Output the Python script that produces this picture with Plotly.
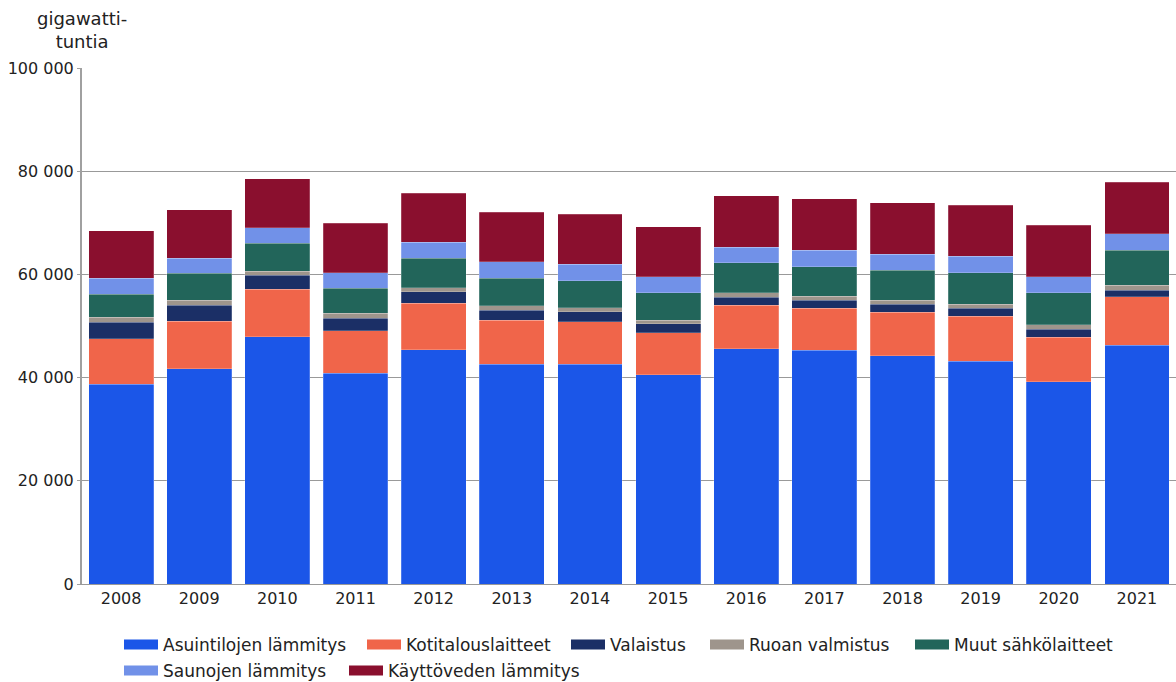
import plotly.graph_objects as go

years = ["2008", "2009", "2010", "2011", "2012", "2013", "2014", "2015",
         "2016", "2017", "2018", "2019", "2020", "2021"]

asuintilojen = [38700, 41700, 47900, 40800, 45350, 42600, 42600, 40600, 45600, 45300, 44200, 43200, 39150, 46300]
kotitalous   = [8800, 9200, 9200, 8300, 9050, 8500, 8200, 8100, 8400, 8150, 8450, 8700, 8650, 9350]
valaistus    = [3200, 3100, 2700, 2400, 2200, 2000, 1950, 1700, 1600, 1550, 1550, 1500, 1600, 1300]
ruoan        = [970, 1000, 850, 950, 800, 800, 800, 750, 850, 750, 800, 800, 850, 900]
muut         = [4450, 5200, 5400, 4900, 5700, 5400, 5250, 5250, 5800, 5750, 5800, 6100, 6150, 6850]
saunojen     = [3100, 2900, 3000, 3000, 3100, 3200, 3200, 3150, 3000, 3200, 3100, 3200, 3150, 3150]
kayttovesi   = [9200, 9400, 9500, 9600, 9550, 9550, 9700, 9700, 10000, 9950, 10000, 9900, 9950, 10000]

names = ["Asuintilojen lämmitys", "Kotitalouslaitteet", "Valaistus", "Ruoan valmistus",
         "Muut sähkölaitteet", "Saunojen lämmitys", "Käyttöveden lämmitys"]
values = [asuintilojen, kotitalous, valaistus, ruoan, muut, saunojen, kayttovesi]
colors = ["#1b56e8", "#f0654a", "#1b2f66", "#9e958c", "#22655a", "#7191e8", "#8a0f2e"]

# legend swatch placement (pixels): left edge of swatch, vertical centre of row
legend_pos = [(122, 645), (365, 645), (569, 645), (708, 645), (913, 645),
              (122, 671), (347, 671)]

W, H = 1176, 682

fig = go.Figure()
for name, vals, col in zip(names, values, colors):
    fig.add_trace(go.Bar(
        x=years, y=vals, name=name, showlegend=False, legendgroup=name,
        marker=dict(color=col, line=dict(color="rgba(255,255,255,0.35)", width=0.6)),
    ))

legends = {}
for i, (name, col, (lx, ly)) in enumerate(zip(names, colors, legend_pos)):
    key = "legend" if i == 0 else f"legend{i + 1}"
    fig.add_trace(go.Scatter(
        x=[None], y=[None], mode="lines", name=name, legendgroup=name, legend=key,
        line=dict(color=col, width=10), showlegend=True, hoverinfo="skip",
    ))
    legends[key] = dict(
        orientation="h", xref="container", yref="container",
        x=(lx - 3) / W, xanchor="left", y=1 - ly / H, yanchor="middle",
        font=dict(size=17, color="#222222"),
        bgcolor="rgba(0,0,0,0)", itemwidth=34,
    )

font_family = "DejaVu Sans, Arial, sans-serif"
fig.update_layout(
    barmode="stack",
    bargap=0.17,
    width=W, height=H,
    margin=dict(l=82, r=0, t=68, b=98, autoexpand=False),
    plot_bgcolor="white",
    paper_bgcolor="white",
    font=dict(family=font_family, size=16, color="#222222"),
    xaxis=dict(
        showgrid=False, ticks="", tickfont=dict(size=16, color="#222222"),
        showline=True, linecolor="#999999", linewidth=1,
    ),
    yaxis=dict(
        range=[0, 100000], tickvals=[0, 20000, 40000, 60000, 80000, 100000],
        ticktext=["0", "20 000", "40 000", "60 000", "80 000", "100 000"],
        showgrid=True, gridcolor="#999999", gridwidth=1,
        showline=True, linecolor="#a0a0a0", linewidth=2,
        ticks="outside", ticklen=3, tickcolor="#a0a0a0",
        tickfont=dict(size=16, color="#222222"), zeroline=False,
    ),
    showlegend=True,
    **legends,
)

fig.add_annotation(
    text="gigawatti-<br>tuntia", xref="paper", yref="paper",
    x=0.0, y=1.074, xanchor="center", yanchor="middle", showarrow=False,
    font=dict(size=18, color="#222222"), align="center",
)

fig.write_html("out.html")
